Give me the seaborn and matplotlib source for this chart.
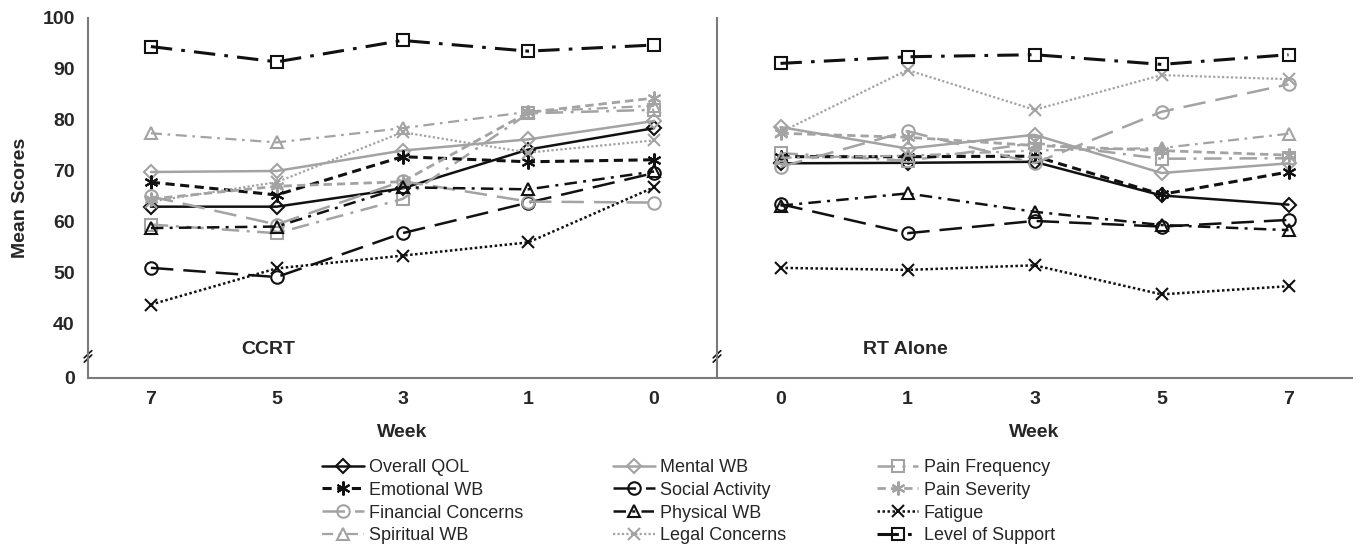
import numpy as np
import pandas as pd
import seaborn as sns
import matplotlib.pyplot as plt

sns.set_style('white')
plt.rcParams['font.family'] = ['Liberation Sans', 'DejaVu Sans']

# data
weeks_ccrt = ['7', '5', '3', '1', '0']
weeks_rt = ['0', '1', '3', '5', '7']
measures = ['Overall QOL', 'Mental WB', 'Pain Frequency',
            'Emotional WB', 'Social Activity', 'Pain Severity',
            'Financial Concerns', 'Physical WB', 'Fatigue',
            'Spiritual WB', 'Legal Concerns', 'Level of Support']

ccrt_overall = [63.0, 63.0, 66.6, 74.2, 78.4]
ccrt_mental = [69.8, 70.0, 74.0, 76.2, 79.8]
ccrt_pain_freq = [59.5, 57.8, 64.5, 81.3, 82.0]
ccrt_emotional = [67.8, 65.3, 72.8, 71.8, 72.2]
ccrt_social = [51.0, 49.2, 57.8, 63.8, 69.6]
ccrt_pain_sev = [64.5, 67.0, 67.9, 81.5, 84.3]
ccrt_financial = [65.0, 59.5, 68.0, 64.0, 63.8]
ccrt_physical = [58.8, 59.1, 66.8, 66.4, 69.9]
ccrt_fatigue = [43.8, 50.9, 53.4, 56.0, 66.8]
ccrt_spiritual = [77.4, 75.6, 78.4, 81.6, 82.8]
ccrt_legal = [64.0, 67.8, 77.6, 73.6, 76.0]
ccrt_support = [94.4, 91.4, 95.6, 93.5, 94.7]

rt_overall = [71.5, 71.6, 71.8, 65.2, 63.4]
rt_mental = [78.6, 74.4, 77.1, 69.6, 71.5]
rt_pain_freq = [73.5, 72.0, 75.5, 72.4, 72.5]
rt_emotional = [72.8, 72.8, 72.9, 65.4, 69.8]
rt_social = [63.5, 57.8, 60.2, 59.1, 60.4]
rt_pain_sev = [77.4, 76.6, 75.0, 74.0, 73.1]
rt_financial = [70.8, 77.8, 71.5, 81.6, 87.0]
rt_physical = [63.2, 65.6, 62.0, 59.4, 58.4]
rt_fatigue = [51.0, 50.6, 51.5, 45.8, 47.4]
rt_spiritual = [72.6, 73.0, 74.0, 74.5, 77.3]
rt_legal = [77.6, 89.8, 82.0, 88.8, 88.0]
rt_support = [91.1, 92.4, 92.8, 90.9, 92.8]

ccrt = [ccrt_overall, ccrt_mental, ccrt_pain_freq, ccrt_emotional, ccrt_social,
        ccrt_pain_sev, ccrt_financial, ccrt_physical, ccrt_fatigue,
        ccrt_spiritual, ccrt_legal, ccrt_support]
rt = [rt_overall, rt_mental, rt_pain_freq, rt_emotional, rt_social,
      rt_pain_sev, rt_financial, rt_physical, rt_fatigue,
      rt_spiritual, rt_legal, rt_support]

# styles
K = '#111111'
G = '#a3a3a3'
dd = (0, (7, 3, 1.2, 3))
ddash = (0, (5, 2.5, 1.2, 2.5))
longd = (0, (9, 4))
shortd = (0, (3, 1.8))
dot = (0, (1, 1))
star = (6, 2, 0)
styles = {
    'Overall QOL': (K, '-', 'D', 7, 1.8),
    'Mental WB': (G, '-', 'D', 7, 1.8),
    'Pain Frequency': (G, dd, 's', 9, 1.8),
    'Emotional WB': (K, shortd, star, 10, 2.2),
    'Social Activity': (K, longd, 'o', 9, 1.8),
    'Pain Severity': (G, shortd, star, 10, 2.0),
    'Financial Concerns': (G, longd, 'o', 9, 1.8),
    'Physical WB': (K, ddash, '^', 9, 1.8),
    'Fatigue': (K, dot, 'x', 9, 1.8),
    'Spiritual WB': (G, ddash, '^', 9, 1.6),
    'Legal Concerns': (G, dot, 'x', 9, 1.6),
    'Level of Support': (K, dd, 's', 9, 2.2),
}

W, H = 1360, 557
fig = plt.figure(figsize=(W / 100, H / 100), dpi=100)
bottom = 1 - 378 / H
height = (378 - 18) / H
axL = fig.add_axes([88 / W, bottom, (717 - 88) / W, height])
axR = fig.add_axes([717 / W, bottom, (1352 - 717) / W, height])

zero_pos = 29.4
pos = np.arange(5)
spine_c = '#7a7a7a'

for ax, series, weeks, title, tx in [(axL, ccrt, weeks_ccrt, 'CCRT', 0.286),
                                     (axR, rt, weeks_rt, 'RT Alone', 0.296)]:
    for name, vals in zip(measures, series):
        c, ls, m, ms, lw = styles[name]
        df = pd.DataFrame({'pos': pos, 'score': vals})
        sns.lineplot(data=df, x='pos', y='score', ax=ax, color=c, linestyle=ls,
                     linewidth=lw, marker=m, markersize=ms, markeredgecolor=c,
                     markerfacecolor='none', markeredgewidth=1.5, label=name,
                     legend=False)
    ax.set_xlim(-0.5, 4.5)
    ax.set_ylim(zero_pos, 100)
    ax.set_yticks([zero_pos, 40, 50, 60, 70, 80, 90, 100])
    ax.set_xticks(pos)
    ax.set_xticklabels(weeks, fontsize=14, fontweight='bold')
    ax.set_xticks(np.arange(-0.5, 5, 1), minor=True)
    ax.tick_params(axis='x', which='major', length=0, pad=9)
    ax.tick_params(axis='x', which='minor', length=5, width=1.2, color=spine_c,
                   direction='out')
    ax.tick_params(axis='y', length=6, width=1.2, color=spine_c, direction='out')
    for s in ['top', 'right']:
        ax.spines[s].set_visible(False)
    for s in ['left', 'bottom']:
        ax.spines[s].set_color(spine_c)
        ax.spines[s].set_linewidth(1.5)
    ax.set_xlabel('Week', fontsize=14, fontweight='bold', labelpad=12)
    ax.set_ylabel('')
    ax.text(tx, 0.078, title, transform=ax.transAxes, ha='center', va='center',
            fontsize=14, fontweight='bold')
    # axis break marks
    for dy in (-0.006, 0.006):
        ax.plot([-0.006, 0.006], [0.060 + dy - 0.01, 0.060 + dy + 0.01],
                transform=ax.transAxes, color=K, lw=1.2, clip_on=False)

axL.set_yticklabels(['0', '40', '50', '60', '70', '80', '90', '100'],
                    fontsize=14, fontweight='bold')
axR.set_yticklabels([])
axL.set_ylabel('Mean Scores', fontsize=14, fontweight='bold', labelpad=10)

# legend, row-major order in 3 columns
handles, labels = axL.get_legend_handles_labels()
order = [0, 3, 6, 9, 1, 4, 7, 10, 2, 5, 8, 11]
fig.legend([handles[i] for i in order], [labels[i] for i in order], ncol=3,
           loc='upper left', bbox_to_anchor=(322 / W, 1 - 459 / H),
           frameon=False, fontsize=13, handlelength=2.3, handletextpad=0.3,
           columnspacing=5.0, labelspacing=0.32, borderpad=0, borderaxespad=0)

fig.savefig('out.png', dpi=100)
